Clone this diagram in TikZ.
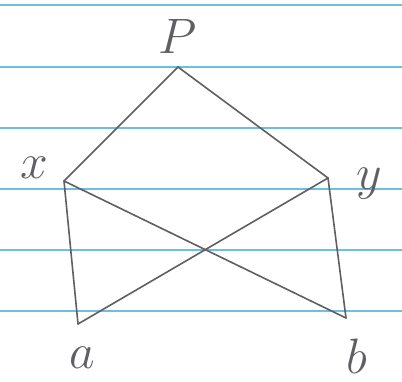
\documentclass[tikz,border=0pt]{standalone}
\definecolor{rulecol}{RGB}{110,190,225}
\definecolor{inkcol}{RGB}{95,95,100}
\begin{document}
\begin{tikzpicture}[x=0.5pt,y=-0.5pt,
  rule/.style={line width=1.1pt,color=rulecol},
  edge/.style={line width=0.8pt,color=inkcol,line cap=round},
  lbl/.style={font=\fontsize{32}{32}\selectfont,color=inkcol,inner sep=0pt}]
\useasboundingbox (0,0) rectangle (402,381);
\fill[white] (0,0) rectangle (402,381);
% ruled lines
\foreach \ry in {5,67,128,189,250,311}
  \draw[rule] (0,\ry) -- (402,\ry);
% vertices
\coordinate (p) at (178,67);
\coordinate (x) at ( 64,181);
\coordinate (y) at (328,178);
\coordinate (a) at ( 78,324);
\coordinate (b) at (346,318);
% edges
\draw[edge] (p) -- (x);
\draw[edge] (p) -- (y);
\draw[edge] (x) -- (a);
\draw[edge] (y) -- (b);
\draw[edge] (x) -- (b);
\draw[edge] (y) -- (a);
% labels
\node[lbl] (plabel) at (178,36) {$P$};
\node[lbl] (xlabel) at ( 34,168) {$x$};
\node[lbl] (ylabel) at (369,184) {$y$};
\node[lbl] (alabel) at ( 82,358) {$a$};
\node[lbl] (blabel) at (357,356) {$b$};
\end{tikzpicture}
\end{document}
